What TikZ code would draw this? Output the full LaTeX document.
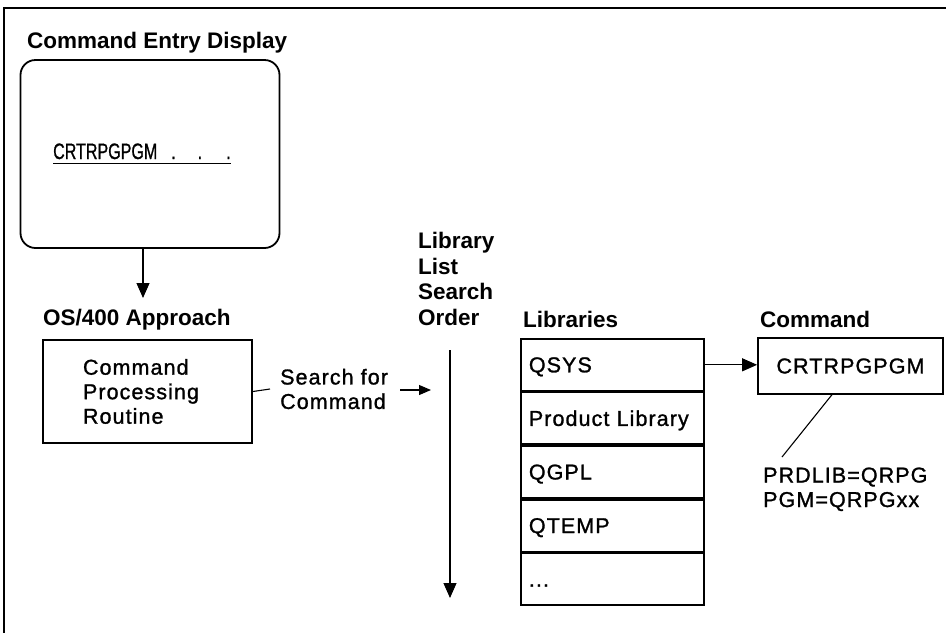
\documentclass[tikz,border=0pt]{standalone}
\usepackage{fontspec}
\setmainfont{Liberation Sans}
\newfontfamily\regf[LetterSpace=5,FakeBold=1.2]{Liberation Sans}
\newfontfamily\narrowf[FakeStretch=0.72,FakeBold=0.8]{Liberation Sans}
\usetikzlibrary{arrows.meta,calc}
\begin{document}
\begin{tikzpicture}[x=1pt,y=-1pt,
  head/.style={font=\bfseries\fontsize{22.5}{25.5}\selectfont, inner sep=0pt, anchor=base west},
  txt/.style={font=\regf\fontsize{21.5}{24.5}\selectfont, inner sep=0pt},
  arr/.style={line width=1.1pt, -{Triangle[length=15pt,width=13pt]}},
  smallarr/.style={line width=1.1pt, -{Triangle[length=12pt,width=10pt]}},
  conn/.style={line width=1.1pt},
  box/.style={draw, line width=1.8pt},
  librow/.style={box, txt, minimum width=183pt, minimum height=51.8pt, text width=167pt, align=left, text height=15pt, text depth=0pt, inner xsep=8pt}
]
\useasboundingbox (0,0) rectangle (946,633);
% frame
\draw[line width=2pt] (946,8) -- (3.5,8) -- (3.5,633);

% command entry display
\node[head] (title) at (27,48) {Command Entry Display};
\node[box, rounded corners=15pt, minimum width=259pt, minimum height=188pt] (disp) at (150,154) {};
\node[font=\narrowf\fontsize{22.3}{24}\selectfont, inner sep=0pt, anchor=base west, text depth=4pt] (scr) at (53,159) {CRTRPGPGM\hspace{14pt}.\hspace{22pt}.\hspace{24pt}.\hspace{2pt}};
\draw[conn] (scr.south west) -- (scr.south east);
\coordinate (osin) at (143,298);
\draw[arr] ([xshift=-7pt]disp.south) -- (osin);

% OS/400 approach
\node[head] (osh) at (43,325) {OS/400 Approach};
\node[box, txt, minimum width=209pt, minimum height=103pt, text width=129pt, inner xsep=40pt, align=left] (cpr) at (147.5,391.5) {Command\\Processing\\Routine};
\node[txt, align=left, anchor=west] (sfc) at (280,389) {Search for\\Command};
\draw[conn] (cpr.east) -- ($(sfc.west)+(-10,0)$);
\coordinate (sfa) at (400,390);
\coordinate (sfb) at (431,390);
\draw[smallarr] (sfa) -- (sfb);

% library list search order
\node[head, align=left] (lso) at (418,325) {Library\\List\\Search\\Order};
\coordinate (sot) at (450,350);
\coordinate (sob) at (450,598);
\draw[arr] (sot) -- (sob);

% libraries
\node[head] (libh) at (523,327) {Libraries};
\node[librow, anchor=north west] (l1) at (520,338) {QSYS};
\node[librow, anchor=north] (l2) at (l1.south) {Product Library};
\node[librow, anchor=north] (l3) at (l2.south) {QGPL};
\node[librow, anchor=north] (l4) at (l3.south) {QTEMP};
\node[librow, anchor=north] (l5) at (l4.south) {...};

% command
\node[head] (cmdh) at (760,327) {Command};
\node[box, txt, minimum width=185pt, minimum height=56pt] (cmd) at (850.5,366) {CRTRPGPGM};
\draw[arr] (l1.east) -- (l1.east -| cmd.west);
\coordinate (pa) at ($(cmd.south west)!0.4!(cmd.south east)$);
\coordinate (pb) at (782,457);
\draw[conn] (pa) -- (pb);
\node[txt, align=left, anchor=base west] (prd) at (763,507) {PRDLIB=QRPG\\PGM=QRPGxx};
\end{tikzpicture}
\end{document}
